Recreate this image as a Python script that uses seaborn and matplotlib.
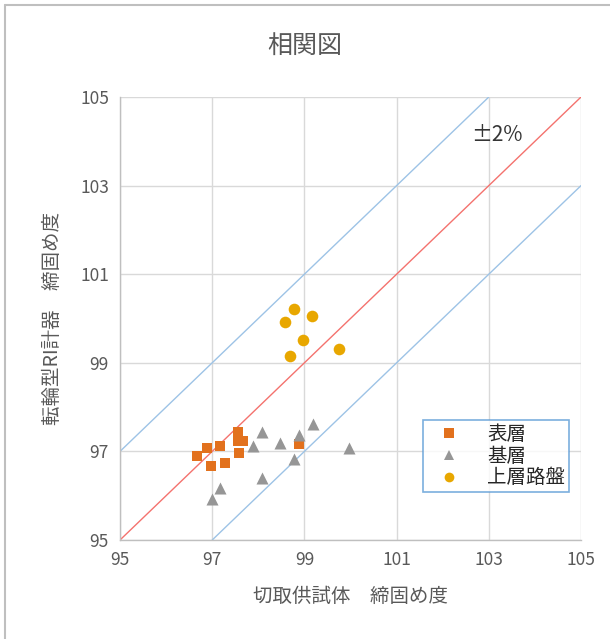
import matplotlib
matplotlib.use("Agg")
import matplotlib.pyplot as plt
import seaborn as sns
import pandas as pd
from matplotlib.lines import Line2D

# 表層 (surface layer)
surface_x = [96.68, 96.88, 96.97, 97.17, 97.28, 97.57, 97.57, 97.67, 97.58, 98.88]
surface_y = [96.90, 97.07, 96.68, 97.13, 96.73, 97.44, 97.24, 97.24, 96.96, 97.16]
# 基層 (base layer)
base_x = [96.99, 97.18, 98.09, 97.88, 98.09, 98.47, 98.78, 98.89, 99.18, 99.97]
base_y = [95.92, 96.18, 96.39, 97.13, 97.43, 97.20, 96.82, 97.37, 97.62, 97.08]
# 上層路盤 (upper subbase)
subbase_x = [98.77, 98.58, 99.16, 98.96, 98.68, 99.76]
subbase_y = [100.22, 99.91, 100.06, 99.51, 99.15, 99.32]

series_names = ["表層", "基層", "上層路盤"]
ticks = [95, 97, 99, 101, 103, 105]
tolerance = 2

df = pd.concat([
    pd.DataFrame({"x": surface_x, "y": surface_y, "層": series_names[0]}),
    pd.DataFrame({"x": base_x, "y": base_y, "層": series_names[1]}),
    pd.DataFrame({"x": subbase_x, "y": subbase_y, "層": series_names[2]}),
])

sns.set_theme(style="white")
plt.rcParams["font.family"] = ["Noto Sans CJK JP", "DejaVu Sans"]
text_color = "#595959"

fig = plt.figure(figsize=(6.10, 6.39), dpi=100)
ax = fig.add_axes([0.1967, 0.1549, 0.7558, 0.6933])

# reference lines: y = x and ±2
lo, hi = ticks[0], ticks[-1]
ax.plot([lo, hi], [lo, hi], color="#F4726E", lw=1.0, zorder=1)
ax.plot([lo, hi - tolerance], [lo + tolerance, hi], color="#9DC3E6", lw=1.0, zorder=1)
ax.plot([lo + tolerance, hi], [lo, hi - tolerance], color="#9DC3E6", lw=1.0, zorder=1)

palette = {"表層": "#E2711D", "基層": "#969696", "上層路盤": "#E8A700"}
markers = {"表層": "s", "基層": "^", "上層路盤": "o"}
sizes = {"表層": 62, "基層": 75, "上層路盤": 70}
for name in series_names:
    sub = df[df["層"] == name]
    sns.scatterplot(data=sub, x="x", y="y", color=palette[name], marker=markers[name],
                    s=sizes[name], linewidth=0, ax=ax, zorder=3)

ax.set_xlim(lo, hi)
ax.set_ylim(lo, hi)
ax.set_xticks(ticks)
ax.set_yticks(ticks)
ax.grid(True, color="#D9D9D9", lw=1.0)
ax.set_axisbelow(True)
for side in ["top", "right"]:
    ax.spines[side].set_visible(False)
for side in ["left", "bottom"]:
    ax.spines[side].set_color("#BFBFBF")
    ax.spines[side].set_linewidth(1.0)
ax.tick_params(axis="both", length=0, labelsize=12.5, labelcolor=text_color)
ax.tick_params(axis="x", pad=8)
ax.tick_params(axis="y", pad=8)

ax.set_xlabel("切取供試体　締固め度", fontsize=14, color=text_color, labelpad=12)
ax.set_ylabel("転輪型RI計器　締固め度", fontsize=14, color=text_color, labelpad=12)
fig.text(0.5, 0.928, "相関図", ha="center", va="center", fontsize=18, color=text_color)

ax.text(102.62, 104.14, "±2%", fontsize=15, color="#353535", va="center", ha="left")

handles = [Line2D([], [], ls="none", marker=markers[n], color=palette[n],
                  markersize=7, markeredgewidth=0) for n in series_names]
leg = ax.legend(handles, series_names, loc="upper left",
                bbox_to_anchor=(0.6575, 0.2708), frameon=True, fancybox=False,
                fontsize=14, handletextpad=0.8, labelspacing=0.04,
                borderpad=0.2, handlelength=2.3, borderaxespad=0)
leg.get_frame().set_edgecolor("#5B9BD5")
leg.get_frame().set_linewidth(1.2)
for t in leg.get_texts():
    t.set_color("#262626")

# chart frame edges
fig.add_artist(Line2D([5 / 610, 1], [1 - 5 / 639, 1 - 5 / 639], transform=fig.transFigure,
                      color="#BFBFBF", lw=1.5))
fig.add_artist(Line2D([5 / 610, 5 / 610], [0, 1 - 5 / 639], transform=fig.transFigure,
                      color="#BFBFBF", lw=1.5))

fig.savefig("out.png", dpi=100)
